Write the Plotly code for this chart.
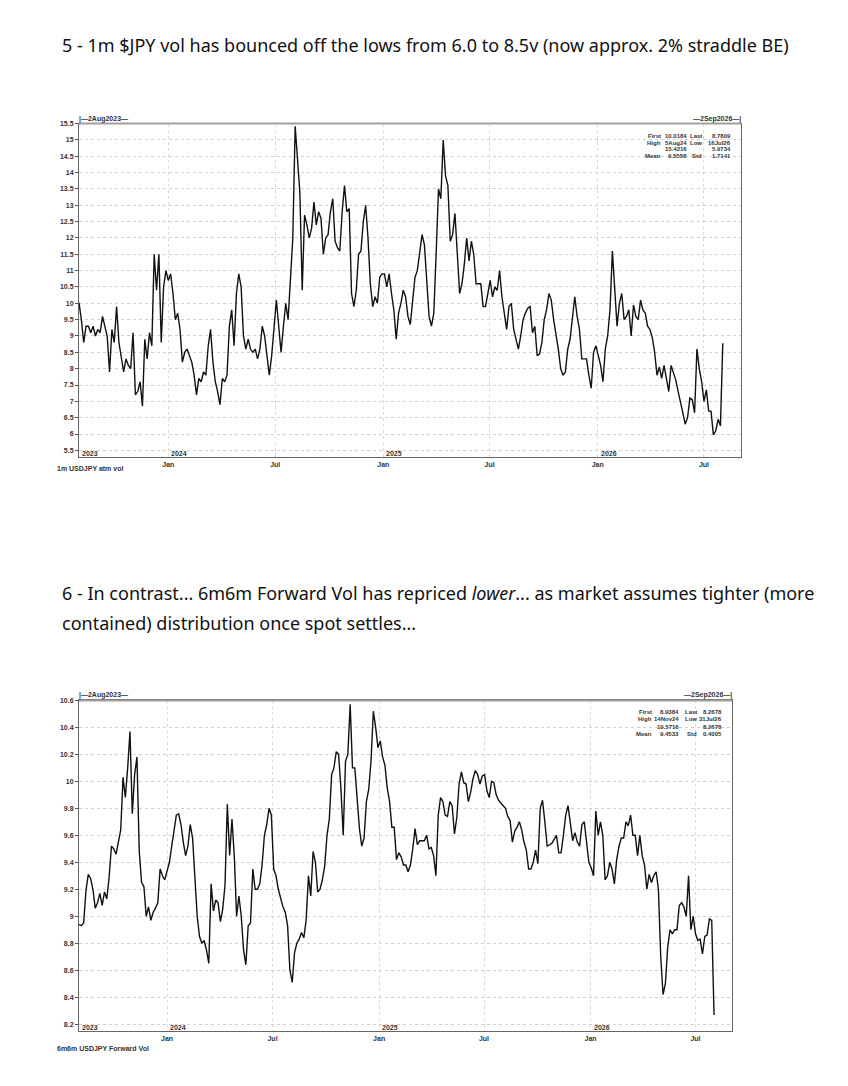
import pandas as pd
import plotly.graph_objects as go

# page body keeps an 8px margin, so the figure is a little smaller than the window
OFF = 8
W, H = 832, 1070

# observations every 4 days from 2 Aug 2023
start_date = "2023-08-02"
obs_step = "4D"

# 1m USDJPY atm vol
vol_1m = [
    10.02, 9.5, 8.8, 9.3, 9.3, 9.1, 9.3, 9.0, 9.2, 9.1,
    9.6, 9.3, 9.0, 7.9, 9.2, 8.8, 9.9, 8.8, 8.4, 7.9,
    8.3, 8.1, 8.0, 9.1, 7.2, 7.3, 7.6, 6.85, 8.9, 8.3,
    9.1, 8.7, 11.5, 10.4, 11.5, 8.8, 10.5, 11.0, 10.7, 10.9,
    10.3, 9.5, 9.7, 9.2, 8.2, 8.5, 8.6, 8.4, 8.2, 7.8,
    7.2, 7.7, 7.6, 7.9, 7.8, 8.7, 9.2, 8.2, 7.6, 7.3,
    6.9, 7.7, 7.6, 7.8, 9.3, 9.8, 8.7, 10.3, 10.9, 10.5,
    9.0, 8.6, 8.9, 8.6, 8.5, 8.6, 8.3, 8.6, 9.3, 9.0,
    8.3, 7.8, 8.4, 9.2, 10.1, 9.3, 8.5, 9.3, 10.0, 9.5,
    10.6, 12.0, 15.42, 14.3, 13.4, 10.4, 12.7, 12.4, 12.0, 12.3,
    13.1, 12.4, 12.8, 12.6, 11.5, 12.0, 12.1, 12.8, 13.2, 11.9,
    11.7, 11.6, 12.8, 13.6, 12.8, 12.9, 10.3, 9.9, 10.4, 11.5,
    11.6, 12.5, 13.0, 12.0, 10.6, 9.9, 10.2, 10.0, 10.8, 10.9,
    10.9, 10.5, 10.9, 10.3, 9.8, 8.9, 9.7, 10.0, 10.4, 10.2,
    9.6, 9.35, 10.0, 10.8, 11.0, 11.6, 12.1, 11.8, 10.6, 9.6,
    9.3, 9.7, 11.5, 13.5, 13.2, 15.0, 13.9, 13.6, 11.9, 12.1,
    12.75, 11.4, 10.3, 10.6, 11.2, 12.0, 11.3, 11.9, 11.5, 10.6,
    10.6, 10.6, 9.9, 9.9, 10.3, 10.7, 10.2, 10.5, 10.4, 11.0,
    10.2, 9.7, 9.2, 9.9, 10.0, 9.2, 8.9, 8.6, 9.0, 9.5,
    9.7, 9.85, 9.9, 9.1, 9.3, 8.4, 8.45, 8.8, 9.5, 9.8,
    10.3, 10.1, 9.5, 9.05, 8.6, 8.0, 7.8, 7.9, 8.6, 8.9,
    9.5, 10.2, 9.6, 9.2, 8.3, 8.3, 8.3, 7.8, 7.4, 8.5,
    8.7, 8.4, 8.1, 7.6, 8.6, 9.0, 9.8, 11.6, 10.3, 9.3,
    10.0, 10.3, 9.5, 9.6, 9.8, 9.0, 9.95, 9.6, 9.5, 10.1,
    9.8, 9.7, 9.3, 9.2, 8.95, 8.5, 7.8, 8.05, 7.7, 8.1,
    7.7, 7.3, 8.1, 7.9, 7.65, 7.3, 7.0, 6.65, 6.3, 6.5,
    7.1, 7.05, 6.65, 8.6, 8.0, 7.6, 7.0, 7.35, 6.7, 6.7,
    5.97, 6.1, 6.45, 6.25, 8.78,
]

# 6m6m USDJPY forward vol
vol_6m6m = [
    8.9384, 8.93, 8.95, 9.19, 9.31, 9.28, 9.2, 9.06, 9.1, 9.17,
    9.08, 9.18, 9.13, 9.29, 9.52, 9.5, 9.46, 9.55, 9.64, 10.03,
    9.88, 10.1, 10.37, 9.76, 10.05, 10.18, 9.48, 9.25, 9.22, 9.0,
    9.07, 8.97, 9.03, 9.06, 9.1, 9.35, 9.3, 9.27, 9.33, 9.4,
    9.52, 9.63, 9.75, 9.76, 9.68, 9.55, 9.45, 9.52, 9.68, 9.58,
    9.28, 9.0, 8.85, 8.8, 8.82, 8.75, 8.65, 9.24, 9.04, 9.12,
    9.1, 8.96, 9.05, 9.23, 9.83, 9.45, 9.72, 9.45, 9.0, 9.15,
    9.0, 8.75, 8.64, 8.93, 8.95, 9.35, 9.2, 9.2, 9.24, 9.38,
    9.6, 9.68, 9.8, 9.75, 9.35, 9.3, 9.2, 9.13, 9.07, 9.03,
    8.93, 8.6, 8.51, 8.73, 8.8, 8.83, 8.88, 8.84, 8.97, 9.3,
    9.15, 9.48, 9.4, 9.18, 9.2, 9.27, 9.37, 9.6, 9.72, 10.05,
    10.1, 10.22, 10.2, 9.95, 9.6, 10.15, 10.2, 10.5716, 10.1, 10.1,
    9.85, 9.65, 9.52, 9.58, 9.85, 9.94, 10.15, 10.52, 10.4, 10.25,
    10.3, 10.18, 10.12, 9.95, 9.85, 9.66, 9.66, 9.42, 9.47, 9.44,
    9.38, 9.38, 9.33, 9.38, 9.5, 9.65, 9.53, 9.56, 9.56, 9.56,
    9.6, 9.5, 9.51, 9.45, 9.3, 9.75, 9.88, 9.85, 9.75, 9.74,
    9.85, 9.82, 9.61, 9.73, 9.98, 10.07, 9.99, 9.98, 9.85, 9.92,
    10.02, 10.08, 10.05, 9.98, 10.04, 10.05, 9.93, 9.88, 10.0, 9.99,
    9.9, 9.86, 9.84, 9.82, 9.8, 9.74, 9.71, 9.55, 9.63, 9.66,
    9.7, 9.64, 9.55, 9.49, 9.35, 9.35, 9.4, 9.49, 9.39, 9.8,
    9.86, 9.7, 9.52, 9.53, 9.54, 9.57, 9.6, 9.47, 9.47, 9.6,
    9.75, 9.82, 9.7, 9.56, 9.62, 9.55, 9.52, 9.68, 9.7, 9.55,
    9.4, 9.36, 9.3, 9.78, 9.6, 9.7, 9.6, 9.27, 9.3, 9.4,
    9.35, 9.24, 9.42, 9.52, 9.58, 9.58, 9.7, 9.67, 9.75, 9.6,
    9.6, 9.45, 9.6, 9.45, 9.38, 9.2, 9.31, 9.25, 9.3, 9.33,
    9.2, 8.7, 8.42, 8.5, 8.77, 8.9, 8.87, 8.9, 8.9, 9.08,
    9.1, 9.07, 9.0, 9.3, 8.9, 9.0, 8.87, 8.82, 8.83, 8.72,
    8.85, 8.86, 8.98, 8.97, 8.2678,
]

ticks_1m = [5.5, 6, 6.5, 7, 7.5, 8, 8.5, 9, 9.5, 10, 10.5, 11, 11.5,
            12, 12.5, 13, 13.5, 14, 14.5, 15, 15.5]
ticks_6m6m = [8.2, 8.4, 8.6, 8.8, 9, 9.2, 9.4, 9.6, 9.8, 10, 10.2, 10.4, 10.6]

month_ticks = ["2024-01-01", "2024-07-01", "2025-01-01", "2025-07-01",
               "2026-01-01", "2026-07-01"]
month_labels = ["Jan", "Jul", "Jan", "Jul", "Jan", "Jul"]
year_ticks = ["2023-08-02", "2024-01-01", "2025-01-01", "2026-01-01"]
year_labels = ["2023", "2024", "2025", "2026"]

stat_names_l = ["First", "High", "", "Mean"]
stat_names_r = ["Last", "Low", "", "Std"]
stats_1m_l = ["10.0184", "5Aug24", "15.4216", "9.5558"]
stats_1m_r = ["8.7809", "16Jul26", "5.9734", "1.7141"]
stats_6m6m_l = ["8.9384", "14Nov24", "10.5716", "9.4533"]
stats_6m6m_r = ["8.2678", "31Jul26", "8.2678", "0.4005"]

x_range = ["2023-08-02", "2026-09-02"]


# window pixel -> paper fraction
def px(x):
    return (x - OFF) / W


def py(y):
    return 1 - (y - OFF) / H


def fmt(v):
    return ("%g" % v)


dates = pd.date_range(start_date, periods=len(vol_1m), freq=obs_step)

fig = go.Figure()
fig.add_trace(go.Scatter(x=dates, y=vol_1m, mode="lines",
                         line=dict(color="#111111", width=1.4),
                         xaxis="x", yaxis="y", showlegend=False))
fig.add_trace(go.Scatter(x=dates, y=vol_6m6m, mode="lines",
                         line=dict(color="#111111", width=1.4),
                         xaxis="x2", yaxis="y2", showlegend=False))

small = dict(family="Liberation Sans", size=7, color="#333333", weight="bold")


def xaxis(left, right, anchor):
    return dict(domain=[px(left), px(right)], range=x_range, anchor=anchor,
                tickvals=month_ticks, ticktext=month_labels, ticks="",
                tickfont=small, showgrid=True, gridcolor="#dadada",
                griddash="dot", gridwidth=1, showline=True, linecolor="#666666",
                linewidth=1, mirror=True, zeroline=False)


def yaxis(top, bottom, rng, vals, anchor):
    return dict(domain=[py(bottom), py(top)], range=rng, anchor=anchor,
                tickvals=vals, ticktext=[fmt(v) for v in vals],
                ticks="outside", ticklen=3, tickcolor="#555555",
                tickfont=small, showgrid=True, gridcolor="#d0d0d0",
                griddash="dot", gridwidth=1, showline=True,
                linecolor="#666666", linewidth=1, mirror=True, zeroline=False)


# chart 1 box: x 79..741, y 120..455 ; chart 2 box: x 79..732, y 699..1031
fig.update_layout(
    width=W, height=H, margin=dict(l=0, r=0, t=0, b=0),
    paper_bgcolor="white", plot_bgcolor="white",
    xaxis=xaxis(79, 741, "y"),
    yaxis=yaxis(120, 455, [5.287, 15.5], ticks_1m, "x"),
    xaxis2=xaxis(79, 732, "y2"),
    yaxis2=yaxis(699, 1031, [8.148, 10.6], ticks_6m6m, "x2"),
)

ann = []
head = dict(family="Noto Sans", size=18, color="#111111")
ann.append(dict(text="5 - 1m $JPY vol has bounced off the lows from 6.0 to 8.5v (now approx. 2% straddle BE)",
                x=px(60), y=py(41), xref="paper", yref="paper",
                xanchor="left", yanchor="middle", showarrow=False, font=head))
ann.append(dict(text="6 - In contrast... 6m6m Forward Vol has repriced <i>lower</i>... as market assumes tighter (more",
                x=px(60), y=py(591), xref="paper", yref="paper",
                xanchor="left", yanchor="middle", showarrow=False, font=head))
ann.append(dict(text="contained) distribution once spot settles...",
                x=px(60), y=py(621), xref="paper", yref="paper",
                xanchor="left", yanchor="middle", showarrow=False, font=head))

charts = [
    dict(xa="x", top=120, bottom=455, right=741, name="1m USDJPY atm vol",
         name_y=466, sl=stats_1m_l, sr=stats_1m_r, rows=[132, 139, 146, 153],
         cols=[662, 688, 703, 732]),
    dict(xa="x2", top=699, bottom=1031, right=732, name="6m6m USDJPY Forward Vol",
         name_y=1048, sl=stats_6m6m_l, sr=stats_6m6m_r, rows=[711, 718, 726, 733],
         cols=[653, 680, 698, 723]),
]

for c in charts:
    ann.append(dict(text="|—2Aug2023—", x=px(77), y=py(c["top"] - 5),
                    xref="paper", yref="paper", xanchor="left", yanchor="middle",
                    showarrow=False, font=small))
    ann.append(dict(text="—2Sep2026—|", x=px(c["right"] + 2), y=py(c["top"] - 5),
                    xref="paper", yref="paper", xanchor="right", yanchor="middle",
                    showarrow=False, font=small))
    ann.append(dict(text=c["name"], x=px(55), y=py(c["name_y"]),
                    xref="paper", yref="paper", xanchor="left", yanchor="middle",
                    showarrow=False, font=small))
    for d, lab in zip(year_ticks, year_labels):
        ann.append(dict(text=lab, x=d, y=py(c["bottom"] - 4), xref=c["xa"],
                        yref="paper", xanchor="left", yanchor="middle",
                        xshift=1, showarrow=False, font=small))
    columns = [stat_names_l, c["sl"], stat_names_r, c["sr"]]
    for col_x, col in zip(c["cols"], columns):
        for row_y, txt in zip(c["rows"], col):
            if not txt:
                continue
            ann.append(dict(text=txt, x=px(col_x), y=py(row_y), xref="paper",
                            yref="paper", xanchor="right", yanchor="middle",
                            showarrow=False, borderpad=0,
                            font=dict(family="Liberation Sans", size=6,
                                      color="#333333", weight="bold")))

fig.update_layout(annotations=ann)

# heavier grey top edge of each frame
shapes = []
for c in charts:
    shapes.append(dict(type="line", xref="paper", yref="paper",
                       x0=px(79), x1=px(c["right"]), y0=py(c["top"]), y1=py(c["top"]),
                       line=dict(color="#a0a0a0", width=2)))
fig.update_layout(shapes=shapes)

fig.write_html("out.html")
